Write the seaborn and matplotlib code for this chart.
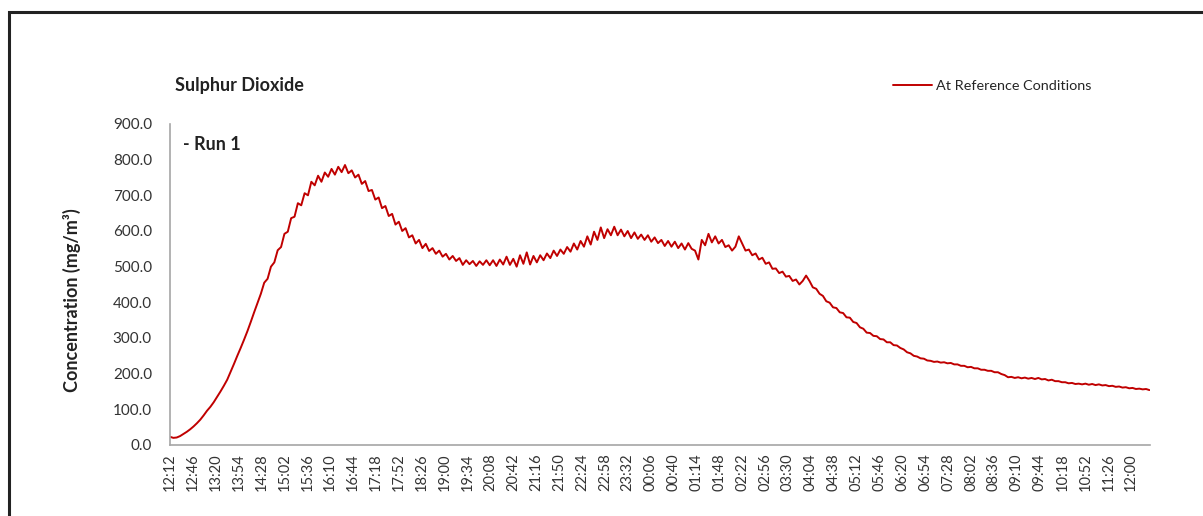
import matplotlib
matplotlib.use('Agg')
import matplotlib.pyplot as plt
from matplotlib.patches import Rectangle
import seaborn as sns
import pandas as pd
import numpy as np

# SO2 concentration, one value every 5 minutes from 12:12
step_min = 5
so2_values = [
    23, 20, 21, 25, 31, 37, 44, 52, 61, 71, 83, 96,
    107, 120, 135, 150, 166, 183, 205, 227, 250, 272, 295, 319,
    345, 372, 398, 424, 455, 466, 500, 512, 546, 555, 592, 598,
    636, 640, 678, 672, 706, 700, 738, 728, 755, 738, 764, 752,
    774, 758, 780, 765, 785, 762, 770, 750, 758, 732, 740, 712,
    715, 688, 694, 664, 670, 642, 648, 618, 626, 600, 608, 582,
    588, 565, 575, 552, 564, 544, 552, 536, 545, 528, 536, 520,
    530, 516, 524, 505, 518, 507, 516, 502, 515, 505, 518, 504,
    518, 502, 520, 506, 528, 505, 522, 500, 532, 508, 540, 506,
    530, 512, 532, 518, 537, 524, 545, 530, 548, 536, 555, 542,
    565, 548, 572, 556, 585, 562, 598, 575, 610, 580, 605, 588,
    612, 588, 604, 585, 600, 580, 596, 578, 590, 575, 588, 570,
    582, 566, 575, 558, 572, 556, 570, 552, 565, 548, 566, 550,
    545, 520, 575, 560, 592, 568, 585, 565, 575, 555, 560, 545,
    556, 585, 565, 545, 548, 532, 537, 520, 525, 508, 512, 494,
    495, 482, 486, 472, 474, 460, 464, 450, 460, 475, 460, 442,
    438, 424, 418, 403, 399, 386, 384, 372, 370, 358, 357, 345,
    342, 330, 326, 315, 314, 306, 305, 297, 296, 288, 288, 280,
    279, 272, 268, 260, 257, 250, 248, 243, 242, 237, 236, 233,
    234, 231, 232, 229, 230, 226, 226, 222, 222, 218, 219, 215,
    215, 211, 211, 208, 208, 204, 204, 199, 196, 190, 191, 188,
    190, 187, 189, 186, 188, 185, 188, 184, 185, 181, 183, 179,
    179, 176, 176, 173, 174, 171, 172, 170, 172, 169, 171, 168,
    170, 167, 168, 165, 166, 163, 164, 161, 162, 159, 160, 157,
    158, 156, 157, 154,
]

tick_step = 34
tick_labels = [
    '12:12', '12:46', '13:20', '13:54', '14:28', '15:02', '15:36', '16:10',
    '16:44', '17:18', '17:52', '18:26', '19:00', '19:34', '20:08', '20:42',
    '21:16', '21:50', '22:24', '22:58', '23:32', '00:06', '00:40', '01:14',
    '01:48', '02:22', '02:56', '03:30', '04:04', '04:38', '05:12', '05:46',
    '06:20', '06:54', '07:28', '08:02', '08:36', '09:10', '09:44', '10:18',
    '10:52', '11:26', '12:00',
]

df = pd.DataFrame({'minute': np.arange(len(so2_values)) * step_min,
                   'so2': so2_values})

sns.set_style('white')
plt.rcParams['font.family'] = ['Lato', 'DejaVu Sans']

fig = plt.figure(figsize=(12.03, 5.16), dpi=100)
ax = fig.add_axes([0.1413, 0.1376, 0.8147, 0.6221])

sns.lineplot(data=df, x='minute', y='so2', color='#C00000', linewidth=1.4,
             label='At Reference Conditions', ax=ax)

ax.set_xlim(0, 1456)
ax.set_ylim(0, 900)
ax.set_xticks(np.arange(len(tick_labels)) * tick_step)
ax.set_xticklabels(tick_labels, rotation=90, fontsize=10.5, color='#333333')
ax.set_yticks(np.arange(0, 901, 100))
ax.set_yticklabels([f'{v:.1f}' for v in range(0, 901, 100)], fontsize=11, color='#333333')
ax.tick_params(axis='x', length=0, pad=6)
ax.tick_params(axis='y', length=0, pad=13)
ax.set_xlabel('')
ax.set_ylabel('')
for side in ['top', 'right']:
    ax.spines[side].set_visible(False)
for side in ['left', 'bottom']:
    ax.spines[side].set_color('#A6A6A6')
    ax.spines[side].set_linewidth(1.2)

ax.legend(loc='center left', bbox_to_anchor=(893 / 1203, (516 - 86) / 516),
          bbox_transform=fig.transFigure, frameon=False, fontsize=10.4,
          handlelength=2.7, handletextpad=0.3, borderpad=0, borderaxespad=0)

fig.text(175 / 1203, (516 - 85) / 516, 'Sulphur Dioxide', fontsize=13,
         fontweight='bold', color='#222222', va='center', ha='left')
fig.text(183 / 1203, (516 - 144) / 516, '- Run 1', fontsize=13,
         fontweight='bold', color='#222222', va='center', ha='left')
fig.text(72 / 1203, (516 - 300) / 516, 'Concentration (mg/m³)', fontsize=13,
         fontweight='bold', color='#222222', va='center', ha='center', rotation=90)

# outer chart frame, cut off at the right and bottom
fig.add_artist(Rectangle((9 / 1203, -0.1), 1.2, 1.1 - 12 / 516, transform=fig.transFigure,
                         fill=False, edgecolor='#222222', linewidth=2.2))

fig.savefig('out.png', dpi=100)
